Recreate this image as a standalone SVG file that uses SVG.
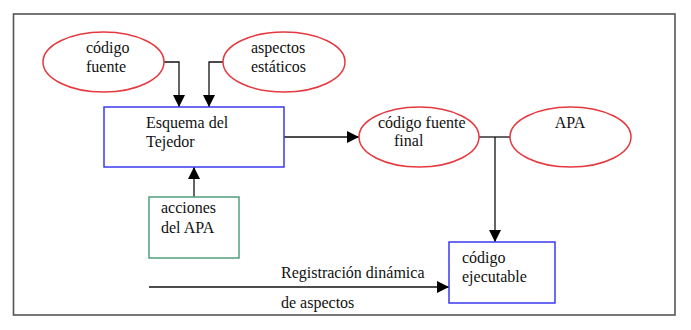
<svg xmlns="http://www.w3.org/2000/svg" width="691" height="330" viewBox="0 0 691 330">
  <style>
    .lbl { font-family: "Liberation Serif", "Times New Roman", serif; font-size: 16px; fill: #111; }
    .oval { fill: #fff; stroke: #e5393f; stroke-width: 1.5; }
    .blue { fill: #fff; stroke: #3a3af0; stroke-width: 1.5; }
    .green { fill: #fff; stroke: #4fa07c; stroke-width: 1.5; }
    .edge { fill: none; stroke: #111; stroke-width: 1.3; }
  </style>
  <defs>
    <marker id="arrow" viewBox="0 0 12 12" refX="12" refY="6" markerWidth="12" markerHeight="12" markerUnits="userSpaceOnUse" orient="auto">
      <path d="M0,0 L12,6 L0,12 Z" fill="#000"/>
    </marker>
  </defs>
  <rect width="691" height="330" fill="#fff"/>
  <rect x="13.5" y="14" width="661.5" height="301" fill="none" stroke="#555" stroke-width="1.6"/>

  <g id="connectors">
    <polyline class="edge" points="164,62 179,62 179,107" marker-end="url(#arrow)"/>
    <polyline class="edge" points="223,62 209,62 209,107" marker-end="url(#arrow)"/>
    <line class="edge" x1="284" y1="137" x2="359" y2="137" marker-end="url(#arrow)"/>
    <line class="edge" x1="194" y1="197" x2="194" y2="167" marker-end="url(#arrow)"/>
    <line class="edge" x1="479" y1="137" x2="510" y2="137"/>
    <line class="edge" x1="495" y1="137" x2="495" y2="242" marker-end="url(#arrow)"/>
    <line class="edge" x1="149" y1="287" x2="449" y2="287" marker-end="url(#arrow)"/>
    <text class="lbl" x="281" y="278">Registración dinámica</text>
    <text class="lbl" x="281" y="308">de aspectos</text>
  </g>

  <g id="codigo-fuente">
    <ellipse class="oval" cx="103.5" cy="62" rx="60.5" ry="30"/>
    <text class="lbl" x="86" y="53">código</text>
    <text class="lbl" x="86" y="72">fuente</text>
  </g>

  <g id="aspectos-estaticos">
    <ellipse class="oval" cx="284" cy="62" rx="61" ry="30"/>
    <text class="lbl" x="251" y="53">aspectos</text>
    <text class="lbl" x="251" y="72">estáticos</text>
  </g>

  <g id="esquema-tejedor">
    <rect class="blue" x="104" y="107" width="180" height="60"/>
    <text class="lbl" x="146" y="128">Esquema del</text>
    <text class="lbl" x="146" y="147">Tejedor</text>
  </g>

  <g id="codigo-fuente-final">
    <ellipse class="oval" cx="419" cy="137" rx="60" ry="30"/>
    <text class="lbl" x="378" y="128">código fuente</text>
    <text class="lbl" x="394" y="146">final</text>
  </g>

  <g id="apa">
    <ellipse class="oval" cx="570.5" cy="137" rx="60.5" ry="30"/>
    <text class="lbl" x="570" y="128" text-anchor="middle">APA</text>
  </g>

  <g id="acciones-apa">
    <rect class="green" x="149" y="197" width="90" height="61"/>
    <text class="lbl" x="161" y="213">acciones</text>
    <text class="lbl" x="161" y="233">del APA</text>
  </g>

  <g id="codigo-ejecutable">
    <rect class="blue" x="449" y="242" width="106" height="61"/>
    <text class="lbl" x="462" y="263">código</text>
    <text class="lbl" x="462" y="282">ejecutable</text>
  </g>
</svg>
